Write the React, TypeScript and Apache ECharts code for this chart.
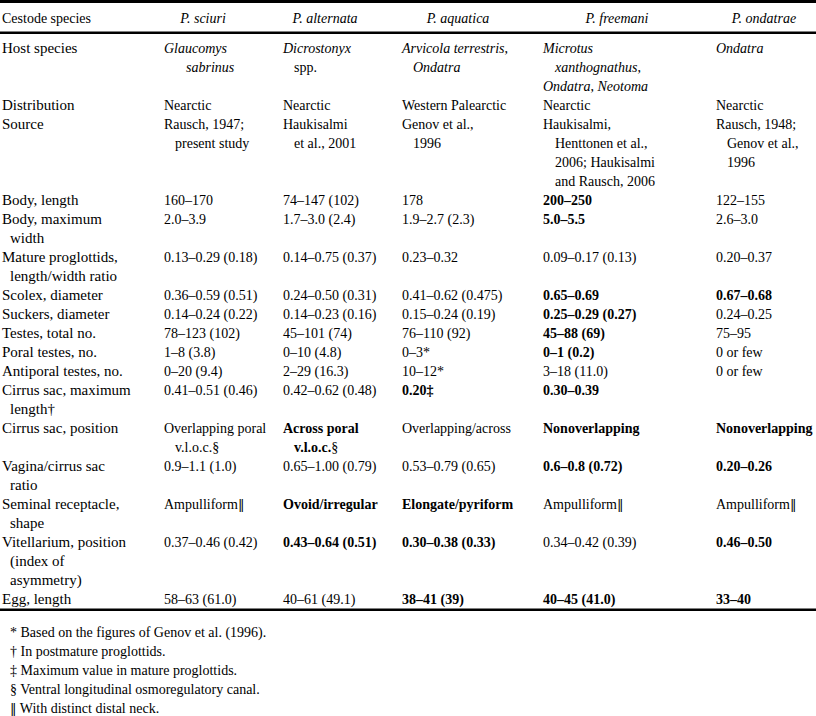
import React, { useEffect, useRef } from "react";
import * as echarts from "echarts";

// ---- Data (table contents) ----
const headerLabel = "Cestode species";
const species = ["P. sciuri", "P. alternata", "P. aquatica", "P. freemani", "P. ondatrae"];

// leading "\t" = continuation line (hanging indent); {b|..} bold, {i|..} italic, {d|..} double bar
const rowLabels: string[][] = [
  ["Host species"],
  ["Distribution"],
  ["Source"],
  ["Body, length"],
  ["Body, maximum", "\twidth"],
  ["Mature proglottids,", "\tlength/width ratio"],
  ["Scolex, diameter"],
  ["Suckers, diameter"],
  ["Testes, total no."],
  ["Poral testes, no."],
  ["Antiporal testes, no."],
  ["Cirrus sac, maximum", "\tlength†"],
  ["Cirrus sac, position"],
  ["Vagina/cirrus sac", "\tratio"],
  ["Seminal receptacle,", "\tshape"],
  ["Vitellarium, position", "\t(index of", "\tasymmetry)"],
  ["Egg, length"],
];

const sciuri: string[][] = [
  ["{i|Glaucomys}", "\t\t{i|sabrinus}"],
  ["Nearctic"],
  ["Rausch, 1947;", "\tpresent study"],
  ["160–170"],
  ["2.0–3.9"],
  ["0.13–0.29 (0.18)"],
  ["0.36–0.59 (0.51)"],
  ["0.14–0.24 (0.22)"],
  ["78–123 (102)"],
  ["1–8 (3.8)"],
  ["0–20 (9.4)"],
  ["0.41–0.51 (0.46)"],
  ["Overlapping poral", "\tv.l.o.c.§"],
  ["0.9–1.1 (1.0)"],
  ["Ampulliform{d|‖}"],
  ["0.37–0.46 (0.42)"],
  ["58–63 (61.0)"],
];

const alternata: string[][] = [
  ["{i|Dicrostonyx}", "\tspp."],
  ["Nearctic"],
  ["Haukisalmi", "\tet al., 2001"],
  ["74–147 (102)"],
  ["1.7–3.0 (2.4)"],
  ["0.14–0.75 (0.37)"],
  ["0.24–0.50 (0.31)"],
  ["0.14–0.23 (0.16)"],
  ["45–101 (74)"],
  ["0–10 (4.8)"],
  ["2–29 (16.3)"],
  ["0.42–0.62 (0.48)"],
  ["{b|Across poral}", "\t{b|v.l.o.c.}§"],
  ["0.65–1.00 (0.79)"],
  ["{b|Ovoid/irregular}"],
  ["{b|0.43–0.64 (0.51)}"],
  ["40–61 (49.1)"],
];

const aquatica: string[][] = [
  ["{i|Arvicola terrestris},", "\t{i|Ondatra}"],
  ["Western Palearctic"],
  ["Genov et al.,", "\t1996"],
  ["178"],
  ["1.9–2.7 (2.3)"],
  ["0.23–0.32"],
  ["0.41–0.62 (0.475)"],
  ["0.15–0.24 (0.19)"],
  ["76–110 (92)"],
  ["0–3*"],
  ["10–12*"],
  ["{b|0.20‡}"],
  ["Overlapping/across"],
  ["0.53–0.79 (0.65)"],
  ["{b|Elongate/pyriform}"],
  ["{b|0.30–0.38 (0.33)}"],
  ["{b|38–41 (39)}"],
];

const freemani: string[][] = [
  ["{i|Microtus}", "\t{i|xanthognathus},", "{i|Ondatra}, {i|Neotoma}"],
  ["Nearctic"],
  ["Haukisalmi,", "\tHenttonen et al.,", "\t2006; Haukisalmi", "\tand Rausch, 2006"],
  ["{b|200–250}"],
  ["{b|5.0–5.5}"],
  ["0.09–0.17 (0.13)"],
  ["{b|0.65–0.69}"],
  ["{b|0.25–0.29 (0.27)}"],
  ["{b|45–88 (69)}"],
  ["{b|0–1 (0.2)}"],
  ["3–18 (11.0)"],
  ["{b|0.30–0.39}"],
  ["{b|Nonoverlapping}"],
  ["{b|0.6–0.8 (0.72)}"],
  ["Ampulliform{d|‖}"],
  ["0.34–0.42 (0.39)"],
  ["{b|40–45 (41.0)}"],
];

const ondatrae: string[][] = [
  ["{i|Ondatra}"],
  ["Nearctic"],
  ["Rausch, 1948;", "\tGenov et al.,", "\t1996"],
  ["122–155"],
  ["2.6–3.0"],
  ["0.20–0.37"],
  ["{b|0.67–0.68}"],
  ["0.24–0.25"],
  ["75–95"],
  ["0 or few"],
  ["0 or few"],
  [""],
  ["{b|Nonoverlapping}"],
  ["{b|0.20–0.26}"],
  ["Ampulliform{d|‖}"],
  ["{b|0.46–0.50}"],
  ["{b|33–40}"],
];

const footnotes = [
  "* Based on the figures of Genov et al. (1996).",
  "† In postmature proglottids.",
  "‡ Maximum value in mature proglottids.",
  "§ Ventral longitudinal osmoregulatory canal.",
  "{d|‖} With distinct distal neck.",
];

// ---- Layout ----
const W = 816;
const H = 716;
const FONT = "Liberation Serif";
const FS = 14;
const FS_LABEL = 15;
const COL_X = [2, 164, 283, 402, 543, 716];
const INDENT = [8, 11, 11, 11, 12, 11];
const HEAD_CX = [203, 325, 458, 617, 764];
const HEAD_Y = 18;
const BODY_Y0 = 48;
const LINE = 19;
const FOOT_Y0 = 632;

const rich = {
  b: { fontSize: FS, fontFamily: FONT, fontWeight: "bold", fill: "#000" },
  i: { fontSize: FS, fontFamily: FONT, fontStyle: "italic", fill: "#000" },
  d: { fontSize: 13, fontFamily: "DejaVu Serif", fill: "#000" },
};

function txt(text: string, x: number, y: number, align = "left", size = FS) {
  return {
    type: "text",
    x,
    y,
    silent: true,
    style: {
      text,
      fontSize: size,
      fontFamily: FONT,
      fill: "#000",
      align,
      verticalAlign: "middle",
      rich,
    },
  };
}

function rule(y: number, h: number) {
  return {
    type: "rect",
    silent: true,
    shape: { x: 0, y, width: W, height: h },
    style: { fill: "#000" },
  };
}

export default function App() {
  const ref = useRef<HTMLDivElement>(null);
  useEffect(() => {
    if (!ref.current) return;
    const chart = echarts.init(ref.current, undefined, { renderer: "svg" });
    const els: any[] = [];
    els.push({ type: "rect", shape: { x: 0, y: 0, width: W, height: H }, style: { fill: "#fff" }, silent: true });
    els.push(rule(0, 3));
    els.push(rule(31.5, 2.5));
    els.push(rule(608.5, 2.5));
    els.push(txt(headerLabel, COL_X[0], HEAD_Y));
    species.forEach((s, k) => els.push(txt(`{i|${s}}`, HEAD_CX[k], HEAD_Y, "center")));

    const cols = [rowLabels, sciuri, alternata, aquatica, freemani, ondatrae];
    let lineIdx = 0;
    rowLabels.forEach((_, r) => {
      let n = 1;
      cols.forEach((c, ci) => {
        const cell = c[r] || [];
        n = Math.max(n, cell.length);
        cell.forEach((ln, j) => {
          if (!ln) return;
          let tabs = 0;
          while (ln[tabs] === "\t") tabs++;
          const t = ln.slice(tabs);
          els.push(
            txt(
              t,
              COL_X[ci] + tabs * INDENT[ci],
              BODY_Y0 + LINE * (lineIdx + j),
              "left",
              ci === 0 ? FS_LABEL : FS
            )
          );
        });
      });
      lineIdx += n;
    });

    footnotes.forEach((f, k) => els.push(txt(f, 10, FOOT_Y0 + LINE * k)));

    chart.setOption({ animation: false, graphic: els });
    return () => chart.dispose();
  }, []);
  return (
    <div
      ref={ref}
      style={{ position: "absolute", left: 0, top: 0, width: W, height: H, background: "#fff" }}
    />
  );
}
